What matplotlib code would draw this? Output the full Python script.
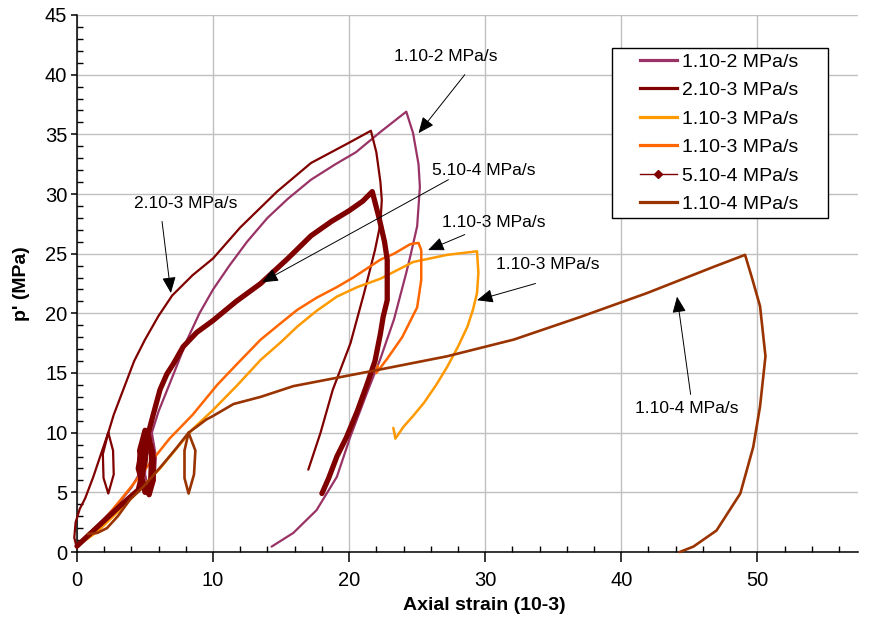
import matplotlib
matplotlib.use("Agg")
import matplotlib.pyplot as plt
from matplotlib.lines import Line2D
from matplotlib.patches import Rectangle
from matplotlib.ticker import MultipleLocator

plt.rcParams['font.family'] = ['Liberation Sans', 'DejaVu Sans']

# ---- data: axial strain (10-3) and p' (MPa) for each loading rate ----
labels = ['1.10-2 MPa/s', '2.10-3 MPa/s', '1.10-3 MPa/s',
          '1.10-3 MPa/s', '5.10-4 MPa/s', '1.10-4 MPa/s']

strain_1e2 = [0.0, 1.0, 2.0, 3.0, 4.0, 4.8, 5.3, 5.5, 5.8, 5.7, 5.3, 5.0, 5.1, 5.5,
              6.0, 6.6, 7.3, 8.1, 9.0, 10.0, 11.2, 12.5, 14.0, 15.5, 17.2, 19.0,
              20.5, 22.3, 24.2, 24.7, 25.1, 25.2, 25.0, 24.5, 24.2, 23.3, 22.3,
              21.3, 20.1, 19.1, 17.6, 15.9, 14.3]
p_1e2 = [0.5, 1.6, 2.8, 4.0, 5.4, 7.0, 8.6, 10.0, 8.0, 6.0, 5.0, 6.5, 8.5, 10.0,
         11.8, 13.5, 15.5, 17.8, 20.0, 22.0, 24.0, 26.0, 28.0, 29.6, 31.2, 32.5,
         33.5, 35.2, 36.9, 35.1, 32.5, 30.6, 27.3, 24.8, 23.4, 19.5, 16.2,
         13.3, 9.7, 6.3, 3.5, 1.6, 0.45]

strain_2e3 = [0.0, -0.2, -0.1, 0.2, 0.6, 1.2, 1.7, 2.3, 2.65, 2.7, 2.3, 1.95, 1.9, 2.3,
              2.7, 3.2, 4.2, 5.0, 6.0, 7.0, 8.5, 10.0, 12.0, 14.7, 17.2, 20.0,
              21.6, 22.0, 22.3, 22.4, 22.3, 21.9, 21.1, 20.1, 18.8, 17.9, 17.0]
p_2e3 = [0.3, 1.2, 2.5, 3.6, 4.5, 6.3, 8.0, 10.0, 8.5, 6.5, 4.9, 6.2, 8.2, 10.0,
         11.5, 13.0, 16.0, 17.8, 19.8, 21.5, 23.2, 24.6, 27.2, 30.2, 32.6, 34.3,
         35.3, 33.5, 31.0, 29.5, 27.5, 25.3, 21.7, 17.5, 13.6, 10.0, 6.9]

strain_1e3a = [0.0, 1.5, 3.65, 6.1, 8.5, 10.0, 11.8, 13.5, 15.0, 16.2, 17.6, 19.1,
               20.6, 22.3, 24.7, 27.2, 29.4, 29.5, 29.4, 29.1, 28.7, 28.0, 27.2,
               26.4, 25.5, 24.7, 24.0, 23.4, 23.25]
p_1e3a = [0.5, 1.7, 4.1, 7.0, 10.3, 11.9, 14.0, 16.1, 17.6, 18.9, 20.2, 21.4,
          22.2, 22.9, 24.3, 24.9, 25.2, 23.4, 21.7, 20.3, 18.9, 17.2, 15.5,
          14.0, 12.5, 11.4, 10.5, 9.5, 10.4]

strain_1e3b = [0.0, 1.5, 3.65, 6.8, 8.5, 10.3, 11.8, 13.5, 15.0, 16.2, 17.6, 19.1,
               20.3, 22.3, 23.3, 24.5, 25.1, 25.3, 25.3, 25.0, 23.9, 22.8, 22.0, 22.1]
p_1e3b = [0.5, 2.0, 5.0, 9.5, 11.5, 14.0, 15.8, 17.8, 19.2, 20.3, 21.3, 22.2,
          23.0, 24.5, 25.0, 25.8, 25.9, 25.3, 22.8, 20.5, 18.0, 16.2, 15.0, 15.6]

strain_5e4 = [0.0, 1.5, 3.2, 4.5, 5.0, 5.2, 5.6, 5.6, 5.3, 4.8, 4.6, 5.0, 5.5, 5.4,
              5.0, 4.5, 4.9, 5.3, 5.6, 6.1, 6.6, 7.1, 7.8, 8.8, 10.0, 11.7, 13.5,
              15.5, 17.2, 18.7, 20.0, 21.0, 21.7, 22.2, 22.6, 22.8, 22.8, 22.5,
              22.3, 21.9, 21.3, 20.6, 19.8, 19.1, 18.5, 18.0]
p_5e4 = [0.5, 2.1, 3.9, 5.2, 7.5, 10.0, 8.0, 6.0, 4.8, 6.0, 8.5, 10.2, 8.5, 5.5,
         5.0, 7.0, 9.5, 10.2, 11.5, 13.6, 14.9, 15.8, 17.2, 18.4, 19.4, 21.0, 22.5,
         24.6, 26.5, 27.7, 28.6, 29.4, 30.2, 28.0, 26.0, 24.5, 21.1, 19.7,
         18.3, 16.0, 14.0, 11.8, 9.6, 8.0, 6.2, 4.9]

strain_1e4 = [0.8, 1.5, 2.2, 3.0, 3.9, 4.9, 6.2, 7.3, 8.2, 8.7, 8.6, 8.2, 7.9, 7.9,
              8.2, 8.8, 9.5, 10.0, 11.5, 13.5, 15.9, 19.1, 22.3, 27.2, 32.1, 37.0,
              41.9, 46.8, 49.1, 49.6, 50.2, 50.6, 50.2, 49.7, 48.75, 47.0, 45.3, 44.3]
p_1e4 = [1.5, 1.6, 2.0, 3.0, 4.4, 5.5, 7.2, 8.7, 10.0, 8.5, 6.5, 4.9, 6.2, 8.5,
         10.0, 10.5, 11.1, 11.4, 12.4, 13.0, 13.9, 14.6, 15.3, 16.4, 17.8, 19.7,
         21.7, 23.9, 24.9, 23.0, 20.6, 16.4, 12.2, 8.8, 4.9, 1.8, 0.45, 0.0]

# annotation labels with text centre, arrow tail and arrow tip (data coords)
note_text = ['1.10-2 MPa/s', '2.10-3 MPa/s', '5.10-4 MPa/s',
             '1.10-3 MPa/s', '1.10-3 MPa/s', '1.10-4 MPa/s']
note_pos = [(27.1, 41.5), (8.0, 29.2), (29.9, 32.0), (30.6, 27.6), (34.6, 24.1), (44.8, 12.0)]
note_tail = [(28.5, 40.0), (6.25, 27.7), (27.3, 31.2), (28.5, 26.6), (33.7, 22.5), (45.1, 13.2)]
note_tip = [(25.1, 35.1), (6.9, 21.7), (13.6, 22.6), (25.8, 25.3), (29.4, 21.1), (44.1, 21.4)]

colors = ['#993366', '#800000', '#FF9900', '#FF6600', '#800000', '#993300']

W, H = 884, 628
fig = plt.figure(figsize=(W / 100, H / 100), dpi=100)
ax = fig.add_axes([77 / W, 1 - 552 / H, 781 / W, 537 / H])

series = [(strain_1e2, p_1e2, 1.6), (strain_2e3, p_2e3, 1.6),
          (strain_1e3a, p_1e3a, 1.8), (strain_1e3b, p_1e3b, 1.8),
          (strain_5e4, p_5e4, 3.8), (strain_1e4, p_1e4, 1.9)]
for (x, y, lw), c in zip(series, colors):
    ax.plot(x, y, color=c, lw=lw, solid_joinstyle='round', solid_capstyle='round',
            clip_on=False, zorder=3)

ax.set_xlim(0, 57.4)
ax.set_ylim(0, 45)
ax.xaxis.set_major_locator(MultipleLocator(10))
ax.xaxis.set_minor_locator(MultipleLocator(2))
ax.yaxis.set_major_locator(MultipleLocator(5))
ax.yaxis.set_minor_locator(MultipleLocator(1))
ax.grid(True, which='major', color='#c0c0c0', lw=1)
ax.set_axisbelow(True)
for s in ('top', 'right'):
    ax.spines[s].set_visible(False)
for s in ('left', 'bottom'):
    ax.spines[s].set_linewidth(1.1)
ax.tick_params(axis='x', which='major', direction='out', length=7, width=1.1,
               labelsize=14.5, pad=7)
ax.tick_params(axis='y', which='major', direction='out', length=4, width=1.1,
               labelsize=14.5, pad=3)
ax.tick_params(which='minor', direction='in', length=4, width=1)

fig.text(484 / W, 1 - 605 / H, 'Axial strain (10-3)', ha='center', va='center',
         fontsize=14, fontweight='bold')
fig.text(22 / W, 1 - 284 / H, "p' (MPa)", ha='center', va='center', rotation=90,
         fontsize=14, fontweight='bold')

for t, pos, tail, tip in zip(note_text, note_pos, note_tail, note_tip):
    ax.text(pos[0], pos[1], t, ha='center', va='center', fontsize=12.5, zorder=6)
    ax.annotate('', xy=tip, xytext=tail,
                arrowprops=dict(arrowstyle='-|>,head_length=0.7,head_width=0.3',
                                color='black', lw=0.7, shrinkA=0, shrinkB=0,
                                mutation_scale=14),
                zorder=6)

# legend box
fig.patches.append(Rectangle((612 / W, 1 - 218 / H), 216 / W, 170 / H,
                             transform=fig.transFigure, facecolor='white',
                             edgecolor='black', lw=1, zorder=5))
handles = []
for i, (lab, c) in enumerate(zip(labels, colors)):
    if i == 4:
        handles.append(Line2D([], [], color=c, lw=1, marker='D', ms=4.5))
    else:
        handles.append(Line2D([], [], color=c, lw=2.3))
leg = fig.legend(handles, labels, loc='upper left',
                 bbox_to_anchor=(640 / W, 1 - 53 / H), bbox_transform=fig.transFigure,
                 frameon=False, fontsize=14, borderpad=0, handlelength=1.9,
                 handletextpad=0.25, labelspacing=0.56, borderaxespad=0)
leg.set_zorder(7)

fig.savefig('out.png', dpi=100)
